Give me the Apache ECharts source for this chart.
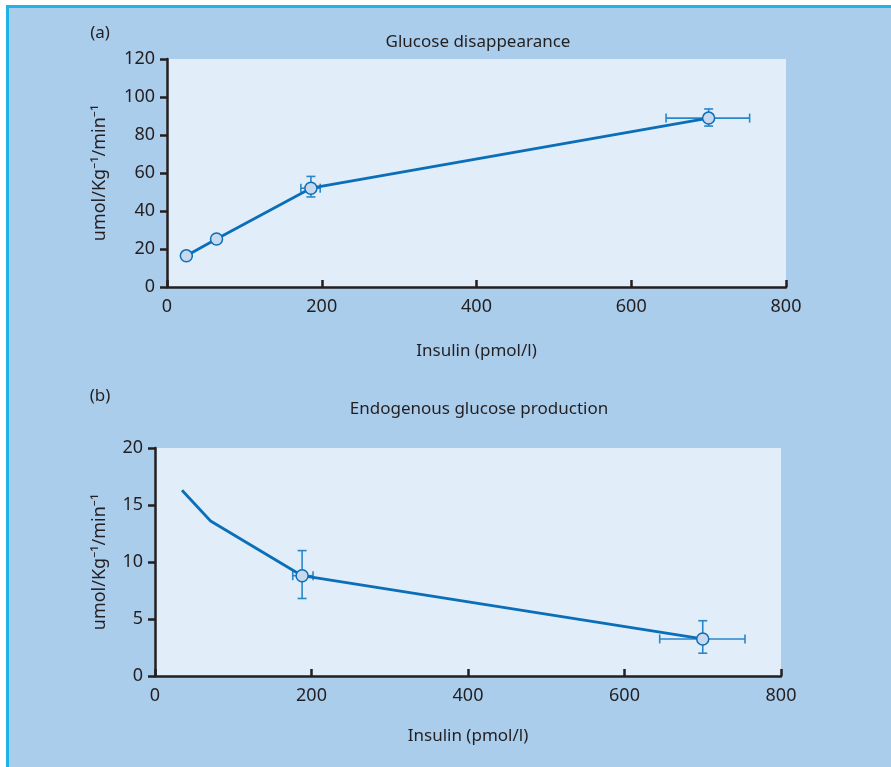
<!DOCTYPE html>
<html><head><meta charset="utf-8">
<script src="https://cdn.jsdelivr.net/npm/echarts@6/dist/echarts.min.js"></script>
<style>html,body{margin:0;padding:0;background:#fff}#c{width:891px;height:767px}</style>
</head><body><div id="c"></div><script>
// ---- data ----
const xTickValues = [0, 200, 400, 600, 800];
const aYTicks = [0, 20, 40, 60, 80, 100, 120];
const bYTicks = [0, 5, 10, 15, 20];

// Panel (a): Glucose disappearance
const aX = [25, 64, 186, 700];
const aY = [16.4, 25.3, 52, 88.9];
const aErrX = [186, 700];
const aErrY = [52, 88.9];
const aErrXLow = [173, 645];
const aErrXHigh = [198, 753];
const aErrYLow = [47.4, 84.7];
const aErrYHigh = [58.2, 93.7];

// Panel (b): Endogenous glucose production
const bX = [34.5, 71, 188, 700];
const bY = [16.3, 13.6, 8.8, 3.25];
const bHasMarker = [false, false, true, true];
const bErrX = [188, 700];
const bErrY = [8.8, 3.25];
const bErrXLow = [176, 645];
const bErrXHigh = [202, 754];
const bErrYLow = [6.8, 2.0];
const bErrYHigh = [11.0, 4.85];

const titles = ['Glucose disappearance', 'Endogenous glucose production'];
const panelLabels = ['(a)', '(b)'];
const xName = 'Insulin (pmol/l)';
const yName = 'umol/Kg\u207B\u00B9/min\u207B\u00B9';

// ---- styles ----
const FONT = '"Noto Sans", sans-serif';
const TXT = '#231f20';
const LINE = '#0a6fb8';
const ERR = '#2a86c8';
const MFILL = '#c8d8ee';

function errData(xs, ys, xl, xh, yl, yh) {
  return xs.map((x, i) => [x, ys[i], xl[i], xh[i], yl[i], yh[i]]);
}
function errRender(params, api) {
  const c = api.coord([api.value(0), api.value(1)]);
  const l = api.coord([api.value(2), api.value(1)]);
  const r = api.coord([api.value(3), api.value(1)]);
  const b = api.coord([api.value(0), api.value(4)]);
  const t = api.coord([api.value(0), api.value(5)]);
  const cap = 4.5;
  const st = { stroke: ERR, lineWidth: 1.6 };
  const ln = (x1, y1, x2, y2) => ({ type: 'line', shape: { x1, y1, x2, y2 }, style: st });
  return { type: 'group', children: [
    ln(l[0], c[1], r[0], c[1]),
    ln(l[0], c[1] - cap, l[0], c[1] + cap),
    ln(r[0], c[1] - cap, r[0], c[1] + cap),
    ln(c[0], b[1], c[0], t[1]),
    ln(c[0] - cap, b[1], c[0] + cap, b[1]),
    ln(c[0] - cap, t[1], c[0] + cap, t[1])
  ]};
}

function xAxisCfg(idx, gap) {
  return {
    type: 'value', gridIndex: idx, min: 0, max: 800, interval: 200,
    axisLine: { show: true, lineStyle: { color: TXT, width: 2.5 } },
    axisTick: { show: true, inside: true, length: 7, lineStyle: { color: TXT, width: 2.5 } },
    axisLabel: { color: TXT, fontSize: 18, fontFamily: FONT, margin: 11 },
    splitLine: { show: false },
    name: xName, nameLocation: 'middle', nameGap: gap,
    nameTextStyle: { color: TXT, fontSize: 17, fontFamily: FONT }
  };
}
function yAxisCfg(idx, max, interval, gap) {
  return {
    type: 'value', gridIndex: idx, min: 0, max: max, interval: interval,
    axisLine: { show: true, lineStyle: { color: TXT, width: 2.5 } },
    axisTick: { show: true, inside: false, length: 7, lineStyle: { color: TXT, width: 2.5 } },
    axisLabel: { color: TXT, fontSize: 18, fontFamily: FONT, margin: 12 },
    splitLine: { show: false },
    name: yName, nameLocation: 'middle', nameGap: gap, nameRotate: 90,
    nameTextStyle: { color: TXT, fontSize: 18, fontFamily: FONT }
  };
}

const chart = echarts.init(document.getElementById('c'), null, { renderer: 'canvas' });
chart.setOption({
  animation: false,
  backgroundColor: '#ffffff',
  graphic: [
    { type: 'rect', z: -100, shape: { x: 6, y: 5, width: 900, height: 800 }, style: { fill: '#1fb3e8' } },
    { type: 'rect', z: -99, shape: { x: 9, y: 8, width: 900, height: 800 }, style: { fill: '#abcdec' } },
    { type: 'text', x: 100, y: 33, style: { text: panelLabels[0], fill: TXT, font: '17px ' + FONT, textAlign: 'center', textVerticalAlign: 'middle' } },
    { type: 'text', x: 478, y: 42, style: { text: titles[0], fill: TXT, font: '17px ' + FONT, textAlign: 'center', textVerticalAlign: 'middle' } },
    { type: 'text', x: 100, y: 396, style: { text: panelLabels[1], fill: TXT, font: '17px ' + FONT, textAlign: 'center', textVerticalAlign: 'middle' } },
    { type: 'text', x: 479, y: 409, style: { text: titles[1], fill: TXT, font: '17px ' + FONT, textAlign: 'center', textVerticalAlign: 'middle' } }
  ],
  grid: [
    { left: 167, right: 105, top: 59, bottom: 480, show: true, backgroundColor: '#e1edf9', borderWidth: 0 },
    { left: 155, right: 110, top: 448, bottom: 91, show: true, backgroundColor: '#e1edf9', borderWidth: 0 }
  ],
  xAxis: [xAxisCfg(0, 56), xAxisCfg(1, 52)],
  yAxis: [yAxisCfg(0, 120, 20, 58), yAxisCfg(1, 20, 5, 46)],
  series: [
    { type: 'custom', xAxisIndex: 0, yAxisIndex: 0, z: 1, renderItem: errRender,
      data: errData(aErrX, aErrY, aErrXLow, aErrXHigh, aErrYLow, aErrYHigh) },
    { type: 'line', xAxisIndex: 0, yAxisIndex: 0, z: 3,
      data: aX.map((x, i) => [x, aY[i]]),
      lineStyle: { color: LINE, width: 2.8 }, symbol: 'circle', symbolSize: 12,
      itemStyle: { color: MFILL, borderColor: LINE, borderWidth: 1.5 } },
    { type: 'custom', xAxisIndex: 1, yAxisIndex: 1, z: 1, renderItem: errRender,
      data: errData(bErrX, bErrY, bErrXLow, bErrXHigh, bErrYLow, bErrYHigh) },
    { type: 'line', xAxisIndex: 1, yAxisIndex: 1, z: 3,
      data: bX.map((x, i) => ({ value: [x, bY[i]], symbol: bHasMarker[i] ? 'circle' : 'none' })),
      lineStyle: { color: LINE, width: 2.8 }, symbol: 'circle', symbolSize: 12, showAllSymbol: true,
      itemStyle: { color: MFILL, borderColor: LINE, borderWidth: 1.5 } }
  ]
});
</script></body></html>
